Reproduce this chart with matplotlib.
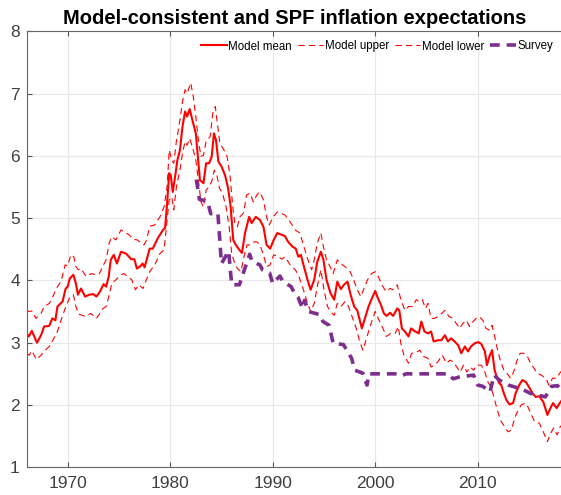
# Model-consistent vs SPF inflation expectations
# values

import matplotlib
matplotlib.use('Agg')
import matplotlib.pyplot as plt

# model mean
mean_t = [1966.0, 1966.2, 1966.5, 1967.0, 1967.4, 1967.7, 1968.2, 1968.5, 1968.8, 1969.0,
          1969.5, 1969.8, 1970.0, 1970.2, 1970.55, 1970.8, 1971.0, 1971.3, 1971.7, 1972.1,
          1972.5, 1972.8, 1973.15, 1973.5, 1973.75, 1974.0, 1974.2, 1974.5, 1974.8, 1975.2,
          1975.7, 1976.2, 1976.5, 1976.75, 1977.1, 1977.3, 1977.5, 1978.0, 1978.3, 1978.8,
          1979.3, 1979.5, 1979.7, 1979.9, 1980.05, 1980.25, 1980.5, 1980.7, 1980.95, 1981.2,
          1981.45, 1981.65, 1981.9, 1982.2, 1982.5, 1982.7, 1982.9, 1983.25, 1983.5, 1983.8,
          1984.05, 1984.27, 1984.47, 1984.7, 1985.0, 1985.35, 1985.65, 1985.9, 1986.15, 1986.4,
          1986.75, 1987.0, 1987.3, 1987.7, 1987.95, 1988.35, 1988.75, 1989.1, 1989.4, 1989.75,
          1990.1, 1990.45, 1990.9, 1991.2, 1991.5, 1991.95, 1992.25, 1992.5, 1992.75, 1993.05,
          1993.4, 1993.7, 1994.05, 1994.35, 1994.7, 1994.95, 1995.25, 1995.65, 1996.0, 1996.3,
          1996.65, 1996.95, 1997.3, 1997.6, 1997.95, 1998.25, 1998.5, 1998.7, 1999.0, 1999.35,
          1999.75, 2000.0, 2000.2, 2000.55, 2000.85, 2001.1, 2001.45, 2001.75, 2002.15, 2002.35,
          2002.6, 2002.9, 2003.25, 2003.5, 2003.9, 2004.25, 2004.5, 2004.8, 2005.15, 2005.45,
          2005.7, 2006.1, 2006.45, 2006.8, 2007.1, 2007.4, 2007.75, 2008.1, 2008.4, 2008.75,
          2009.05, 2009.35, 2009.7, 2010.05, 2010.35, 2010.7, 2010.9, 2011.15, 2011.4, 2011.65,
          2011.9, 2012.1, 2012.3, 2012.55, 2012.8, 2013.1, 2013.45, 2013.7, 2014.05, 2014.35,
          2014.7, 2015.0, 2015.35, 2015.65, 2016.0, 2016.4, 2016.8, 2017.1, 2017.35, 2017.7,
          2018.0, 2018.4]
mean_v = [3.15, 3.10, 3.19, 3.00, 3.12, 3.26, 3.27, 3.39, 3.36, 3.58,
          3.66, 3.87, 3.90, 4.03, 4.09, 3.95, 3.77, 3.87, 3.74, 3.77,
          3.78, 3.74, 3.82, 3.94, 3.90, 4.06, 4.33, 4.41, 4.27, 4.46,
          4.43, 4.34, 4.34, 4.19, 4.23, 4.27, 4.21, 4.51, 4.51, 4.68,
          4.81, 4.84, 5.24, 5.72, 5.69, 5.42, 5.69, 5.93, 6.09, 6.47,
          6.71, 6.63, 6.75, 6.55, 6.36, 5.99, 5.61, 5.56, 5.88, 5.88,
          5.99, 6.36, 6.25, 5.91, 5.83, 5.69, 5.48, 5.18, 4.65, 4.57,
          4.49, 4.44, 4.76, 5.02, 4.92, 5.02, 4.97, 4.86, 4.57, 4.51,
          4.65, 4.76, 4.73, 4.71, 4.62, 4.54, 4.51, 4.38, 4.41, 4.22,
          4.01, 3.85, 4.01, 4.30, 4.46, 4.33, 4.01, 3.79, 3.69, 3.98,
          3.86, 3.93, 3.98, 3.77, 3.58, 3.52, 3.36, 3.23, 3.39, 3.58,
          3.74, 3.83, 3.74, 3.61, 3.47, 3.43, 3.48, 3.43, 3.55, 3.52,
          3.23, 3.18, 3.10, 3.23, 3.18, 3.15, 3.34, 3.18, 3.15, 3.18,
          3.02, 3.04, 3.04, 3.12, 3.02, 3.07, 3.02, 2.96, 2.83, 2.94,
          2.86, 2.94, 2.99, 3.01, 2.98, 2.86, 2.64, 2.78, 2.88, 2.56,
          2.43, 2.35, 2.32, 2.19, 2.08, 2.01, 2.03, 2.19, 2.32, 2.40,
          2.37, 2.29, 2.19, 2.13, 2.14, 2.05, 1.84, 1.95, 2.03, 1.95,
          2.03, 2.12]

# model upper band
upper_t = [1966.0, 1966.25, 1966.5, 1966.9, 1967.4, 1967.7, 1968.2, 1968.55, 1969.0, 1969.35,
           1969.75, 1970.0, 1970.3, 1970.6, 1970.8, 1971.05, 1971.3, 1971.8, 1972.3, 1972.75,
           1973.1, 1973.4, 1973.75, 1974.05, 1974.3, 1974.7, 1975.2, 1975.5, 1976.0, 1976.4,
           1976.8, 1977.15, 1977.45, 1977.7, 1978.0, 1978.5, 1979.0, 1979.4, 1979.7, 1979.9,
           1980.15, 1980.35, 1980.6, 1980.95, 1981.2, 1981.45, 1981.65, 1982.0, 1982.25, 1982.5,
           1982.75, 1983.0, 1983.25, 1983.5, 1983.9, 1984.15, 1984.4, 1984.6, 1984.85, 1985.25,
           1985.55, 1985.85, 1986.1, 1986.3, 1986.55, 1986.8, 1987.15, 1987.45, 1987.8, 1988.1,
           1988.45, 1988.75, 1989.1, 1989.4, 1989.65, 1990.05, 1990.45, 1990.9, 1991.2, 1991.7,
           1992.2, 1992.65, 1993.0, 1993.4, 1993.8, 1994.05, 1994.35, 1994.7, 1994.95, 1995.25,
           1995.6, 1995.9, 1996.3, 1996.65, 1997.05, 1997.55, 1997.85, 1998.25, 1998.6, 1998.9,
           1999.25, 1999.65, 2000.0, 2000.3, 2000.65, 2001.05, 2001.45, 2001.75, 2002.15, 2002.5,
           2002.9, 2003.25, 2003.65, 2004.0, 2004.3, 2004.6, 2004.9, 2005.15, 2005.45, 2005.8,
           2006.3, 2006.8, 2007.2, 2007.6, 2007.9, 2008.25, 2008.55, 2008.9, 2009.2, 2009.55,
           2009.85, 2010.15, 2010.5, 2010.8, 2011.15, 2011.4, 2011.65, 2011.9, 2012.2, 2012.55,
           2012.85, 2013.2, 2013.5, 2013.85, 2014.15, 2014.5, 2014.85, 2015.15, 2015.5, 2015.8,
           2016.2, 2016.65, 2016.95, 2017.3, 2017.7, 2018.0, 2018.4]
upper_v = [3.52, 3.50, 3.51, 3.39, 3.47, 3.58, 3.63, 3.74, 3.90, 3.98,
           4.25, 4.23, 4.41, 4.38, 4.22, 4.17, 4.19, 4.06, 4.11, 4.09,
           4.11, 4.22, 4.33, 4.60, 4.70, 4.65, 4.81, 4.78, 4.73, 4.66,
           4.65, 4.60, 4.57, 4.65, 4.87, 4.89, 5.02, 5.18, 5.50, 6.09,
           5.93, 5.88, 6.23, 6.57, 6.87, 7.06, 7.00, 7.17, 6.95, 6.63,
           6.25, 5.99, 6.01, 6.23, 6.31, 6.68, 6.79, 6.52, 6.20, 6.09,
           5.99, 5.66, 5.18, 4.92, 4.86, 5.02, 5.08, 5.37, 5.40, 5.26,
           5.37, 5.42, 5.29, 5.02, 4.89, 5.02, 5.10, 5.07, 5.05, 4.94,
           4.81, 4.76, 4.57, 4.35, 4.17, 4.33, 4.60, 4.76, 4.54, 4.33,
           4.22, 4.11, 4.33, 4.27, 4.22, 4.14, 4.03, 3.85, 3.74, 3.87,
           4.01, 4.11, 4.14, 4.06, 3.93, 3.82, 3.87, 3.85, 3.93, 3.69,
           3.52, 3.58, 3.58, 3.69, 3.66, 3.69, 3.55, 3.63, 3.39, 3.39,
           3.44, 3.52, 3.42, 3.39, 3.31, 3.23, 3.31, 3.36, 3.26, 3.34,
           3.39, 3.42, 3.36, 3.23, 3.20, 3.28, 3.10, 2.91, 2.72, 2.56,
           2.51, 2.43, 2.53, 2.72, 2.83, 2.83, 2.78, 2.67, 2.59, 2.51,
           2.48, 2.43, 2.32, 2.43, 2.43, 2.51, 2.59]

# model lower band
lower_t = [1966.0, 1966.25, 1966.5, 1966.95, 1967.4, 1967.7, 1968.2, 1968.55, 1969.0, 1969.35,
           1969.75, 1970.15, 1970.55, 1970.8, 1971.05, 1971.4, 1971.75, 1972.25, 1972.8, 1973.1,
           1973.45, 1973.75, 1974.05, 1974.3, 1974.7, 1975.2, 1975.5, 1975.85, 1976.25, 1976.6,
           1976.95, 1977.35, 1977.6, 1978.0, 1978.5, 1979.0, 1979.4, 1979.7, 1979.9, 1980.15,
           1980.35, 1980.6, 1980.95, 1981.2, 1981.45, 1981.65, 1981.9, 1982.2, 1982.5, 1982.75,
           1983.0, 1983.25, 1983.5, 1983.8, 1984.1, 1984.3, 1984.55, 1984.8, 1985.1, 1985.45,
           1985.75, 1986.0, 1986.25, 1986.55, 1986.9, 1987.2, 1987.5, 1987.85, 1988.2, 1988.45,
           1988.75, 1989.1, 1989.4, 1989.75, 1990.1, 1990.55, 1990.9, 1991.2, 1991.7, 1992.2,
           1992.5, 1993.0, 1993.4, 1993.7, 1994.05, 1994.35, 1994.7, 1995.0, 1995.35, 1995.65,
           1996.0, 1996.3, 1996.65, 1997.05, 1997.4, 1997.7, 1998.15, 1998.45, 1998.8, 1999.1,
           1999.5, 2000.0, 2000.3, 2000.75, 2001.1, 2001.5, 2001.95, 2002.25, 2002.5, 2002.8,
           2003.25, 2003.55, 2003.95, 2004.35, 2004.7, 2005.15, 2005.45, 2005.8, 2006.1, 2006.55,
           2006.95, 2007.3, 2007.65, 2007.95, 2008.3, 2008.6, 2008.95, 2009.25, 2009.6, 2009.9,
           2010.35, 2010.7, 2011.0, 2011.35, 2011.65, 2012.0, 2012.3, 2012.65, 2012.95, 2013.3,
           2013.6, 2013.95, 2014.25, 2014.6, 2014.9, 2015.25, 2015.55, 2016.0, 2016.4, 2016.8,
           2017.1, 2017.4, 2017.75, 2018.05, 2018.4]
lower_v = [2.83, 2.80, 2.87, 2.73, 2.80, 2.86, 2.94, 3.04, 3.18, 3.36,
           3.55, 3.71, 3.77, 3.58, 3.46, 3.44, 3.42, 3.47, 3.39, 3.46,
           3.55, 3.58, 3.77, 3.95, 4.01, 4.09, 4.11, 4.06, 4.01, 3.85,
           3.93, 3.87, 3.98, 4.14, 4.25, 4.43, 4.49, 4.97, 5.29, 5.34,
           5.13, 5.50, 5.77, 6.04, 6.23, 6.17, 6.28, 6.12, 5.93, 5.61,
           5.26, 5.18, 5.45, 5.50, 5.61, 5.77, 5.69, 5.48, 5.40, 5.18,
           4.86, 4.43, 4.30, 4.19, 4.14, 4.38, 4.57, 4.57, 4.62, 4.62,
           4.57, 4.41, 4.22, 4.25, 4.41, 4.38, 4.34, 4.38, 4.25, 4.17,
           4.09, 3.85, 3.63, 3.50, 3.63, 3.90, 4.17, 3.85, 3.58, 3.50,
           3.44, 3.63, 3.58, 3.66, 3.58, 3.44, 3.23, 3.04, 2.88, 3.04,
           3.26, 3.50, 3.39, 3.23, 3.10, 3.15, 3.15, 3.26, 2.99, 2.80,
           2.67, 2.83, 2.84, 2.88, 2.78, 2.75, 2.61, 2.64, 2.69, 2.80,
           2.67, 2.72, 2.69, 2.61, 2.53, 2.64, 2.53, 2.61, 2.56, 2.64,
           2.64, 2.53, 2.37, 2.27, 2.08, 1.87, 1.73, 1.65, 1.57, 1.60,
           1.79, 1.92, 2.00, 2.03, 1.97, 1.84, 1.73, 1.71, 1.57, 1.41,
           1.54, 1.63, 1.52, 1.65, 1.71]

# SPF survey
spf_t = [1982.55, 1982.85, 1983.65, 1983.95, 1984.65, 1985.0, 1985.7, 1986.0, 1986.75, 1987.75,
         1988.0, 1988.75, 1989.0, 1989.7, 1990.0, 1990.7, 1991.0, 1991.8, 1992.2, 1992.5,
         1992.9, 1993.1, 1993.5, 1994.6, 1994.9, 1995.5, 1995.9, 1996.9, 1997.7, 1998.0,
         1998.8, 1999.2, 1999.4, 2002.2, 2002.6, 2003.0, 2007.2, 2007.6, 2008.2, 2009.6,
         2010.0, 2010.5, 2011.2, 2011.6, 2012.1, 2013.0, 2014.0, 2014.5, 2015.1, 2016.6,
         2017.2, 2017.8, 2018.1, 2018.4]
spf_v = [5.62, 5.30, 5.27, 5.07, 5.08, 4.27, 4.47, 3.93, 3.93, 4.42,
         4.30, 4.25, 4.17, 4.12, 3.95, 4.07, 3.98, 3.90, 3.77, 3.72,
         3.55, 3.68, 3.50, 3.45, 3.34, 3.28, 2.99, 2.97, 2.75, 2.56,
         2.51, 2.32, 2.50, 2.50, 2.47, 2.50, 2.50, 2.42, 2.45, 2.48,
         2.32, 2.30, 2.21, 2.48, 2.40, 2.32, 2.27, 2.24, 2.19, 2.13,
         2.30, 2.31, 2.25, 2.27]

xticks = [1970, 1980, 1990, 2000, 2010]
yticks = [1, 2, 3, 4, 5, 6, 7, 8]

plt.rcParams['font.family'] = ['Liberation Sans', 'DejaVu Sans']
plt.rcParams['lines.scale_dashes'] = False

W, H = 561, 495
fig = plt.figure(figsize=(W / 100, H / 100), dpi=100)

# axes in pixels: left spine at 26.7, y=1 at 467.3, y=8 at 31.2
x0, x1 = 1966.0, 2018.4
ppy = 10.25  # pixels per year
ax = fig.add_axes([26.7 / W, (H - 467.3) / H, (x1 - x0) * ppy / W, 436.1 / H])

red = '#ff0000'
purple = '#7e2f8e'

ax.plot(mean_t, mean_v, color=red, lw=1.5, label='Model mean')
ax.plot(upper_t, upper_v, color=red, lw=0.8, dashes=(4.5, 3), label='Model upper')
ax.plot(lower_t, lower_v, color=red, lw=0.8, dashes=(4.5, 3), label='Model lower')
ax.plot(spf_t, spf_v, color=purple, lw=2.6, dashes=(7, 5), label='Survey')

ax.set_xlim(x0, x1)
ax.set_ylim(1, 8)
ax.set_xticks(xticks)
ax.set_yticks(yticks)
ax.grid(True, color='#e8e8e8', lw=0.8)
ax.set_axisbelow(True)

ax.tick_params(direction='in', top=True, right=False, length=3.6, width=0.8,
               colors='#555555', labelcolor='#404040', labelsize=12.5)
ax.tick_params(axis='x', pad=6)
ax.tick_params(axis='y', pad=5)
for s in ['left', 'bottom', 'top']:
    ax.spines[s].set_color('#666666')
    ax.spines[s].set_linewidth(0.8)
ax.spines['right'].set_visible(False)

fig.text(295 / W, (H - 23.5) / H, 'Model-consistent and SPF inflation expectations',
         ha='center', va='baseline', fontsize=14.5, fontweight='bold')

ax.legend(loc='center right', bbox_to_anchor=(553 / W, 1 - 46.5 / H),
          bbox_transform=fig.transFigure, ncol=4, frameon=False, fontsize=8.3,
          handlelength=2.2, handletextpad=0.15, columnspacing=0.5, borderpad=0,
          borderaxespad=0)

fig.savefig('out.png', dpi=100)
